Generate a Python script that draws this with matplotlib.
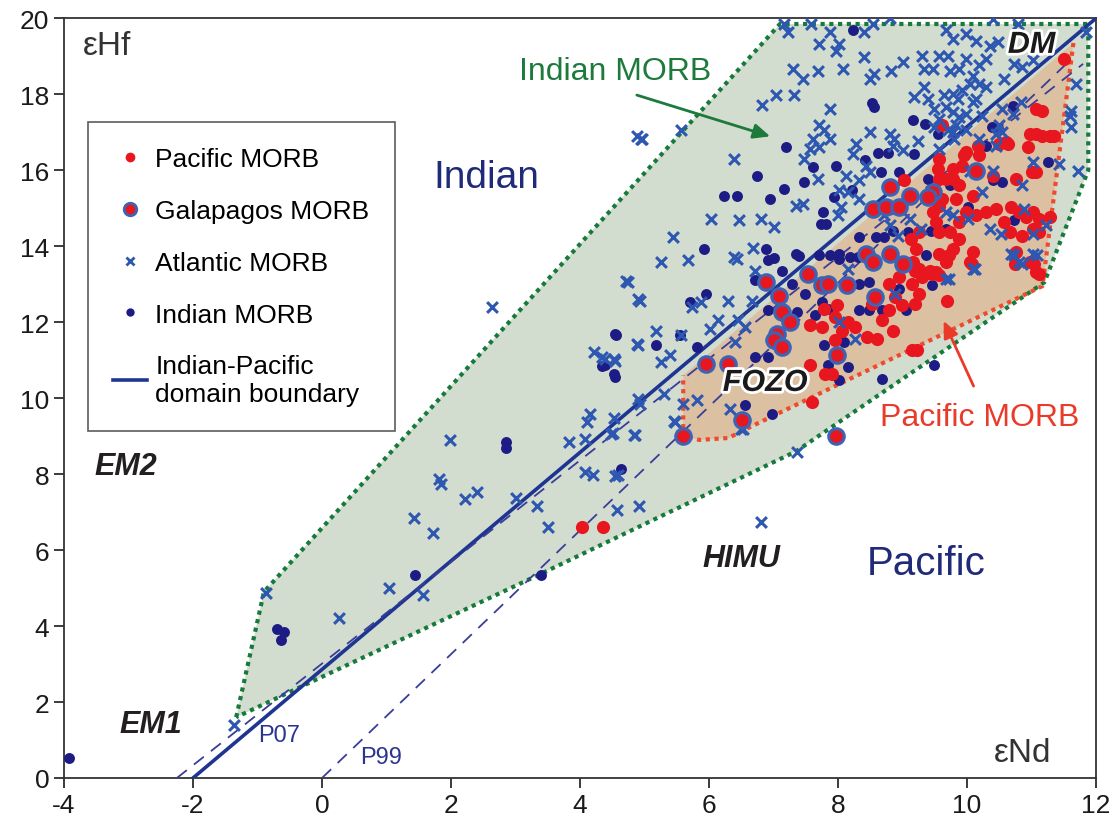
import matplotlib
matplotlib.use("Agg")
import matplotlib.pyplot as plt
import matplotlib.patheffects as pe
from matplotlib.lines import Line2D
from matplotlib.patches import Polygon

plt.rcParams['font.family'] = ['Liberation Sans', 'DejaVu Sans']
plt.rcParams['axes.unicode_minus'] = False

# eNd, eHf pairs
indian = [(-3.92, 0.53), (-0.70, 3.91), (-0.59, 3.84), (-0.64, 3.62), (1.44, 5.35), (3.40, 5.35),
          (2.86, 8.85), (2.86, 8.70), (4.63, 8.13), (4.54, 11.69), (4.34, 10.85), (4.52, 10.63),
          (6.71, 13.1), (7.49, 12.75), (7.28, 13.01), (7.36, 12.27), (7.75, 12.53), (7.85, 12.35),
          (8.32, 12.31), (8.48, 12.31), (8.68, 12.31), (9.05, 12.31), (8.94, 12.88), (9.46, 12.97),
          (8.32, 13.01), (8.48, 13.06), (7.78, 11.39), (8.09, 11.48), (7.85, 10.86), (8.16, 10.82),
          (8.68, 10.51), (9.49, 10.86), (8.01, 10.47), (6.56, 9.81), (6.97, 9.59), (6.71, 11.08),
          (6.92, 11.08), (5.81, 11.35), (5.96, 12.75), (5.7, 12.53), (4.56, 11.65), (4.54, 10.56),
          (5.18, 11.39), (5.55, 11.65), (4.38, 10.86), (7.65, 12.18), (6.92, 12.31),
          (8.24, 19.7), (8.53, 17.77), (8.56, 17.66), (9.16, 17.33), (9.35, 17.22), (9.55, 16.96),
          (10.39, 17.13), (10.71, 17.7), (7.19, 16.61), (6.75, 15.86), (7.61, 16.08), (7.97, 16.12),
          (8.42, 16.26), (8.62, 16.46), (8.77, 16.46), (9.18, 16.43), (8.95, 15.95), (8.67, 15.95),
          (10.3, 16.65), (11.25, 16.21), (7.48, 15.68), (7.17, 15.51), (6.95, 15.25), (6.24, 15.32),
          (6.44, 15.32), (7.76, 14.9), (7.74, 14.59), (7.81, 14.59), (8.22, 15.47), (7.94, 15.29),
          (9.39, 15.77), (9.73, 15.6), (10.4, 15.73), (10.55, 15.69), (10.01, 15.03), (10.73, 14.68),
          (8.33, 14.24), (8.59, 14.24), (8.72, 14.24), (8.85, 14.41), (9.08, 14.37), (9.44, 14.41),
          (9.67, 14.46), (9.36, 13.76), (5.93, 13.93), (6.88, 13.93), (7.01, 13.7), (7.35, 13.8),
          (7.71, 13.76), (7.87, 13.76), (8.02, 13.8), (8.18, 13.71), (8.31, 13.71), (7.13, 13.36),
          (8.01, 13.67), (6.92, 13.63), (7.39, 13.73)]

pacific = [(4.03, 6.62), (4.36, 6.62), (9.2, 13.36), (9.3, 13.19), (9.46, 13.28), (9.56, 13.23),
           (9.15, 13.01), (9.25, 12.75), (9.69, 12.57), (11.12, 13.28), (8.89, 12.66), (8.99, 12.44),
           (8.79, 12.31), (9.2, 12.49), (8.68, 12.05), (8.86, 11.78), (8.6, 11.57), (8.45, 11.61),
           (8.27, 11.87), (8.16, 12.0), (8.06, 11.78), (7.96, 12.14), (7.98, 12.44), (7.78, 12.35),
           (7.57, 11.92), (7.75, 11.87), (7.96, 11.52), (7.8, 10.64), (7.9, 10.64), (7.57, 10.86),
           (9.15, 11.26), (9.23, 11.26), (7.59, 9.9), (8.53, 12.49), (8.79, 13.01), (8.94, 13.19),
           (10.08, 13.54), (10.75, 13.54), (11.04, 13.54), (9.56, 13.8), (9.72, 13.76),
           (11.51, 18.93), (11.07, 17.62), (11.17, 17.57), (9.62, 17.18), (10.97, 16.96), (11.07, 16.96),
           (11.17, 16.91), (11.28, 16.91), (11.35, 16.91), (10.94, 16.61), (10.17, 16.65), (9.96, 16.39),
           (10.5, 16.69), (10.63, 16.69), (11.0, 15.95), (11.07, 15.95), (10.76, 15.77), (9.55, 16.04),
           (9.57, 15.77), (9.67, 15.77), (9.78, 15.77), (9.88, 15.6), (9.83, 15.25), (9.62, 15.25),
           (9.93, 16.12), (10.09, 15.33), (10.45, 14.98), (10.68, 15.03), (10.81, 14.9), (10.92, 14.76),
           (11.02, 14.9), (11.12, 14.72), (11.28, 14.76), (10.58, 14.63), (10.66, 14.37), (10.86, 14.28),
           (11.02, 14.46), (11.12, 14.37), (10.76, 13.84), (10.97, 13.58), (11.07, 13.32), (10.09, 13.84),
           (10.04, 13.58), (9.57, 15.07), (9.26, 14.37), (9.13, 14.19), (9.21, 13.93), (9.16, 13.58),
           (9.26, 13.41), (9.42, 13.36), (9.52, 13.32), (9.67, 13.58), (9.78, 13.93), (9.88, 14.19),
           (9.57, 14.37), (9.73, 14.37), (9.88, 14.63), (10.14, 14.81), (10.3, 14.9), (9.98, 14.9),
           (9.47, 14.9), (9.52, 14.63), (9.03, 15.73), (9.57, 16.3), (9.78, 16.04), (9.98, 16.48),
           (10.61, 16.74), (10.19, 16.39), (10.4, 15.86)]

galapagos = [(5.59, 9.0), (7.97, 9.0), (6.51, 9.42), (6.89, 13.06), (7.08, 12.7), (7.13, 12.27),
             (7.26, 12.0), (7.05, 11.7), (7.0, 11.52), (7.13, 11.35), (5.96, 10.91), (6.3, 10.91),
             (7.54, 13.28), (7.75, 12.97), (7.85, 13.01), (8.14, 12.97), (8.58, 12.66), (7.99, 11.13),
             (10.14, 15.99), (8.8, 15.55), (9.11, 15.33), (9.47, 15.42), (9.39, 15.29), (8.54, 14.99),
             (8.74, 15.03), (8.95, 15.03), (8.43, 13.8), (8.54, 13.58), (8.8, 13.8), (9.0, 13.54)]

atlantic = [(-1.37, 1.40), (-0.87, 4.87), (0.27, 4.22), (1.04, 5.0), (1.42, 6.84), (1.56, 4.83),
            (1.72, 6.44), (1.82, 7.87), (1.85, 7.73), (1.99, 8.90), (2.22, 7.34), (2.40, 7.54),
            (3.01, 7.36), (3.34, 7.15), (3.51, 6.60), (3.83, 8.85), (4.07, 8.92), (4.08, 8.05),
            (4.2, 7.98), (4.11, 9.36), (4.48, 9.05), (4.83, 9.02), (4.54, 7.95), (4.58, 7.06),
            (4.91, 7.15), (6.81, 6.73), (7.36, 8.59), (5.45, 9.4), (6.49, 9.2),
            (4.88, 16.91), (4.96, 16.82), (2.63, 12.39), (4.72, 13.09), (4.9, 12.61), (4.88, 11.42),
            (4.21, 11.22), (4.34, 11.07), (4.52, 11.03), (4.15, 9.58), (4.9, 9.97), (4.52, 9.49),
            (5.26, 13.58), (5.67, 13.63), (6.43, 13.67), (6.71, 13.36), (4.75, 13.06), (4.93, 12.57),
            (5.73, 12.4), (5.88, 12.53), (6.3, 12.57), (6.66, 12.57), (5.18, 11.78), (5.57, 11.65),
            (4.9, 11.39), (5.39, 11.13), (5.26, 10.95), (4.54, 10.99), (4.38, 11.04), (6.01, 11.83),
            (6.14, 12.05), (6.45, 12.05), (6.56, 11.87), (6.4, 11.48), (4.93, 9.85), (5.31, 10.12),
            (5.6, 9.85), (5.81, 9.94), (6.32, 9.72), (5.47, 9.37), (4.85, 9.02), (4.51, 9.07),
            (4.59, 7.97), (6.53, 9.2), (8.01, 12.0), (8.27, 11.57), (8.89, 12.75), (9.72, 13.14),
            (10.13, 13.41), (10.73, 13.76), (11.09, 13.76), (10.86, 13.54), (8.16, 13.41),
            (7.17, 19.85), (7.22, 19.63), (7.58, 19.85), (7.87, 19.63), (8.02, 19.33), (7.97, 19.15),
            (7.71, 19.33), (8.41, 19.63), (8.54, 19.85), (8.8, 20.0), (8.41, 18.98), (9.0, 18.84),
            (9.67, 19.68), (9.78, 19.46), (9.98, 19.59), (10.14, 19.41), (10.4, 19.98), (10.79, 19.85),
            (10.35, 19.28), (10.48, 19.37), (10.29, 18.93), (10.19, 18.76), (10.09, 18.49), (9.98, 18.93),
            (10.73, 18.8), (10.58, 18.41), (10.86, 18.71), (11.02, 18.89), (11.85, 19.63), (11.69, 18.27),
            (11.59, 17.44), (11.61, 17.13), (11.61, 17.57), (11.72, 15.99), (11.43, 16.17), (11.02, 16.21),
            (10.86, 15.6), (7.3, 18.67), (7.45, 18.41), (7.69, 18.62), (8.07, 18.67), (8.49, 18.41),
            (8.56, 18.54), (8.82, 18.62), (9.31, 19.02), (9.34, 18.67), (9.57, 19.02), (9.7, 19.02),
            (9.73, 18.62), (9.88, 18.67), (9.47, 18.67), (9.34, 18.19), (9.18, 17.92), (9.39, 17.88),
            (9.65, 17.97), (9.78, 18.01), (9.86, 17.88), (9.93, 18.1), (10.04, 18.27), (10.19, 18.27),
            (10.29, 18.19), (10.14, 17.88), (9.49, 17.62), (9.67, 17.66), (9.78, 17.53), (9.88, 17.4),
            (9.98, 17.48), (10.09, 17.79), (9.83, 17.18), (9.78, 17.0), (9.98, 17.05), (10.24, 17.44),
            (10.55, 17.62), (10.84, 17.79), (10.71, 17.48), (10.5, 17.18), (9.57, 17.35), (9.49, 17.13),
            (9.8, 16.83), (9.57, 16.56), (7.04, 17.97), (7.32, 17.97), (6.82, 17.72), (7.87, 17.62),
            (7.71, 17.18), (7.79, 17.05), (7.61, 16.83), (7.87, 16.83), (7.56, 16.56), (7.71, 16.61),
            (8.49, 17.0), (8.8, 16.96), (8.87, 16.83), (8.28, 16.69), (8.23, 16.43), (8.85, 16.65),
            (9.24, 16.78), (9.0, 16.52), (6.39, 16.3), (7.48, 16.3), (7.69, 15.77), (8.12, 15.86),
            (8.33, 15.73), (8.43, 16.12), (8.49, 15.95), (8.15, 15.42), (8.02, 15.47), (8.33, 15.25),
            (7.35, 15.07), (7.45, 15.12), (6.03, 14.72), (6.47, 14.68), (6.81, 14.72), (7.01, 14.5),
            (5.44, 14.24), (6.39, 13.72), (6.68, 13.94), (8.05, 15.03), (8.0, 14.81), (8.72, 14.81),
            (8.8, 14.55), (8.93, 14.28), (9.11, 14.72), (9.29, 14.46), (9.67, 14.9), (9.78, 14.81),
            (10.01, 14.72), (10.35, 14.46), (10.53, 14.32), (10.09, 13.41), (9.67, 13.14), (10.68, 13.8),
            (10.81, 13.58), (11.02, 13.8), (11.23, 14.55), (11.02, 14.32), (10.89, 14.98), (10.24, 15.42),
            (10.04, 15.99), (10.4, 15.99), (10.19, 16.83), (10.45, 16.65), (10.45, 16.96), (10.55, 17.0),
            (9.7, 17.05), (4.95, 16.83), (5.57, 17.05)]

# fields and reference lines
indian_field = [(-1.33, 1.6), (-0.9, 4.9), (7.1, 19.85), (11.88, 19.85), (11.88, 16.0),
                (11.2, 13.05), (7.35, 8.6), (3.4, 5.38)]
pacific_field = [(11.65, 19.35), (11.17, 12.95), (6.65, 9.25), (6.3, 8.95), (5.85, 8.9),
                 (5.6, 9.0), (5.6, 10.6)]
boundary = [(-2.0, 12.0), (0.0, 20.0)]
p07 = [(-2.25, 11.8), (0.0, 18.8)]
p99 = [(0.0, 11.6), (0.0, 18.9)]

fig = plt.figure(figsize=(11.17, 8.28), dpi=100)
ax = fig.add_axes([0.0573, 0.0592, 0.9239, 0.9175])

ax.add_patch(Polygon(indian_field, closed=True, facecolor='#d2dccf', edgecolor='none', zorder=1))
ax.add_patch(Polygon(pacific_field, closed=True, facecolor='#dbc0a2', edgecolor='none', zorder=1.5))
gx = [p[0] for p in indian_field] + [indian_field[0][0]]
gy = [p[1] for p in indian_field] + [indian_field[0][1]]
ax.plot(gx, gy, color='#167a3a', lw=3, ls=(0, (1, 1.1)), zorder=2)
ax.plot([p[0] for p in pacific_field], [p[1] for p in pacific_field],
        color='#f04a2c', lw=3, ls=(0, (1, 1.1)), zorder=2)

ax.plot(boundary[0], boundary[1], color='#1e3591', lw=2.6, zorder=3)
ax.plot(p07[0], p07[1], color='#3a3d98', lw=1.3, ls=(0, (7, 5)), zorder=3)
ax.plot(p99[0], p99[1], color='#3a3d98', lw=1.3, ls=(0, (7, 5)), zorder=3)

ax.scatter([p[0] for p in indian], [p[1] for p in indian], s=62, color='#1c1c84', zorder=4, lw=0)
ax.scatter([p[0] for p in pacific], [p[1] for p in pacific], s=90, color='#e8171f', zorder=4.2, lw=0)
ax.scatter([p[0] for p in atlantic], [p[1] for p in atlantic], s=60, marker='x', color='#2d57b0',
           lw=2.2, zorder=4.4)
ax.scatter([p[0] for p in galapagos], [p[1] for p in galapagos], s=125, facecolor='#e8171f',
           edgecolor='#3c63b4', lw=2.2, zorder=4.6)

ax.set_xlim(-4, 12)
ax.set_ylim(0, 20)
ax.set_xticks(range(-4, 13, 2))
ax.set_yticks(range(0, 21, 2))
ax.tick_params(direction='out', length=7, width=1.2, labelsize=19, colors='#1a1a1a')
for s in ax.spines.values():
    s.set_color('#333333')
    s.set_linewidth(1.3)

outline = [pe.withStroke(linewidth=4, foreground='white')]
ax.text(-3.71, 19.28, 'εHf', fontsize=24, color='#333333', va='center', zorder=6)
ax.text(10.86, 0.68, 'εNd', fontsize=24, color='#333333', va='center', ha='center', zorder=6)
ax.text(2.55, 15.81, 'Indian', fontsize=28, color='#1f2a78', ha='center', va='center', zorder=6)
ax.text(9.37, 5.67, 'Pacific', fontsize=29, color='#1f2a78', ha='center', va='center', zorder=6)
ax.text(4.55, 18.6, 'Indian MORB', fontsize=23, color='#1d7a3c', ha='center', va='center', zorder=6)
ax.text(10.2, 9.5, 'Pacific MORB', fontsize=23, color='#ea3a2a', ha='center', va='center', zorder=6)
ax.annotate('', xy=(6.99, 16.87), xytext=(4.84, 18.0),
            arrowprops=dict(arrowstyle='-|>,head_length=1.0,head_width=0.45', color='#1d7a3c', lw=2),
            zorder=6)
ax.annotate('', xy=(9.62, 12.1), xytext=(10.12, 10.25),
            arrowprops=dict(arrowstyle='-|>,head_length=1.0,head_width=0.45', color='#ea3a2a', lw=2),
            zorder=6)

for label, x, y in [('DM', 11.0, 19.3), ('FOZO', 6.87, 10.4)]:
    ax.text(x, y, label, fontsize=22, fontweight='bold', fontstyle='italic', color='#1a1a1a',
            ha='center', va='center', path_effects=outline, zorder=7)
for label, x, y in [('EM2', -3.04, 8.22), ('EM1', -2.66, 1.43), ('HIMU', 6.5, 5.8)]:
    ax.text(x, y, label, fontsize=22, fontweight='bold', fontstyle='italic', color='#231f20',
            ha='center', va='center', zorder=6)
ax.text(-0.99, 1.12, 'P07', fontsize=17, color='#2b3590', va='center', zorder=6)
ax.text(0.59, 0.55, 'P99', fontsize=17, color='#2b3590', va='center', zorder=6)

handles = [
    Line2D([], [], ls='none', marker='o', ms=7, color='#e8171f', mec='none'),
    Line2D([], [], ls='none', marker='o', ms=9, mfc='#e8171f', mec='#3c63b4', mew=2),
    Line2D([], [], ls='none', marker='x', ms=6, color='#2d57b0', mew=2),
    Line2D([], [], ls='none', marker='o', ms=6, color='#1c1c84', mec='none'),
    Line2D([], [], color='#1e3591', lw=2.6),
]
labels = ['Pacific MORB', 'Galapagos MORB', 'Atlantic MORB', 'Indian MORB',
          'Indian-Pacific\ndomain boundary']
leg = ax.legend(handles, labels, loc='upper left', bbox_to_anchor=(0.0233, 0.863), fontsize=19,
                frameon=True, fancybox=False, edgecolor='#333333', handlelength=1.3,
                handletextpad=0.3, labelspacing=1.05, borderpad=0.95, borderaxespad=0)
leg.get_frame().set_linewidth(1.2)
leg.set_zorder(8)

fig.savefig('out.png', dpi=100)
